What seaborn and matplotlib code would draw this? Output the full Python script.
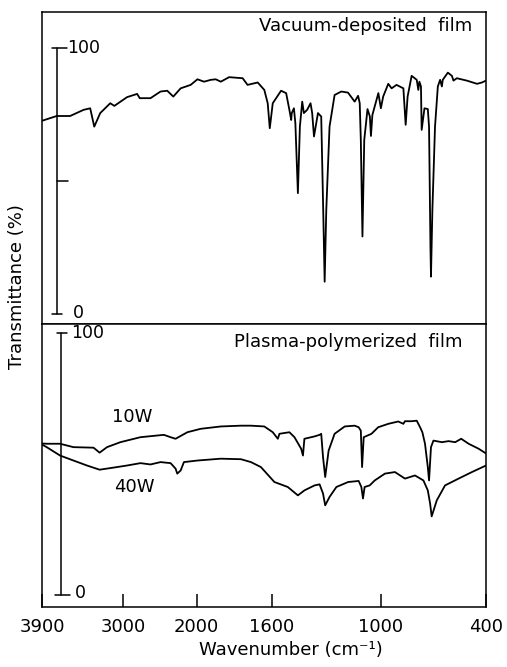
import numpy as np
import pandas as pd
import seaborn as sns
import matplotlib
matplotlib.use("Agg")
import matplotlib.pyplot as plt

# ---------------- data ----------------
vac_wn = [3900, 3737, 3589, 3441, 3367, 3322, 3256, 3145, 3100, 2949, 2812, 2777, 2630,
          2493, 2402, 2319, 2219, 2082, 1996, 1961, 1925, 1899, 1872, 1828, 1756, 1730,
          1676, 1641, 1623, 1612, 1596, 1550, 1522, 1504, 1494, 1491, 1479, 1471, 1457,
          1446, 1433, 1424, 1406, 1387, 1378, 1368, 1346, 1328, 1317, 1309, 1300, 1282,
          1254, 1217, 1180, 1143, 1124, 1115, 1109, 1100, 1090, 1072, 1059, 1053, 1045,
          1012, 998, 985, 956, 937, 909, 870, 857, 846, 823, 794, 785, 779, 770, 766,
          750, 731, 724, 716, 713, 705, 690, 674, 661, 651, 646, 617, 594, 585, 566,
          509, 451, 423, 400]
vac_T = [72.6, 74.4, 74.4, 76.7, 77.3, 70.4, 75.5, 79.2, 78.2, 81.5, 82.7, 81.1, 81.1,
         83.6, 83.9, 81.7, 84.8, 86.1, 88.2, 87.3, 88.0, 88.2, 87.3, 89.0, 88.6, 86.1,
         87.0, 84.2, 79.2, 69.8, 79.2, 83.9, 83.0, 76.7, 72.9, 75.5, 77.3, 71.7, 45.4,
         70.4, 79.8, 75.5, 76.7, 79.2, 75.5, 66.7, 75.5, 74.2, 39.1, 12.1, 39.1, 70.4,
         82.3, 83.6, 83.2, 79.8, 82.0, 79.2, 65.4, 29.1, 65.4, 77.0, 74.2, 66.9, 74.8,
         83.0, 77.3, 81.7, 86.5, 84.8, 86.1, 84.8, 71.1, 81.7, 89.5, 88.0, 84.2, 87.3,
         85.5, 69.2, 77.3, 77.0, 70.4, 25.3, 14.0, 39.1, 70.4, 85.5, 88.0, 85.5, 88.0,
         90.7, 89.5, 87.7, 88.6, 87.7, 86.5, 87.0, 87.7]

w10_wn = [3900, 3848, 3700, 3552, 3330, 3263, 3181, 3033, 2767, 2448, 2356, 2288, 2127,
          1979, 1872, 1765, 1712, 1641, 1596, 1568, 1559, 1504, 1476, 1439, 1429, 1421,
          1365, 1337, 1328, 1318, 1306, 1287, 1254, 1198, 1143, 1121, 1109, 1102, 1093,
          1050, 1013, 956, 899, 870, 861, 823, 794, 775, 762, 747, 731, 724, 713, 699,
          651, 613, 575, 541, 499, 442, 400]
w10_T = [57.8, 57.7, 57.7, 56.4, 56.2, 54.3, 56.4, 58.3, 60.2, 61.1, 60.2, 59.6, 62.1,
         63.4, 64.3, 64.6, 64.6, 64.3, 62.1, 59.6, 61.5, 62.1, 60.2, 55.8, 53.2, 59.6,
         60.5, 61.1, 61.5, 52.6, 45.0, 55.1, 61.5, 64.3, 64.6, 64.0, 62.7, 48.8, 60.2,
         61.5, 64.0, 65.3, 66.2, 65.3, 66.3, 66.3, 66.5, 64.0, 62.1, 57.7, 48.8, 43.7,
         56.4, 58.9, 58.3, 58.7, 58.3, 59.6, 57.7, 55.8, 54.0]

w40_wn = [3900, 3848, 3700, 3552, 3403, 3263, 3108, 2949, 2767, 2630, 2493, 2356, 2288,
          2265, 2219, 2174, 1996, 1872, 1765, 1712, 1659, 1587, 1513, 1457, 1421, 1365,
          1337, 1318, 1306, 1282, 1244, 1179, 1121, 1106, 1097, 1088, 1060, 1032, 975,
          918, 861, 804, 756, 731, 718, 709, 680, 633, 556, 480, 400]
w40_T = [57.4, 56.4, 53.2, 51.3, 49.4, 47.8, 48.6, 49.4, 50.3, 49.8, 50.7, 50.3, 48.2,
         46.3, 47.5, 50.7, 51.3, 52.0, 51.8, 50.7, 48.8, 43.1, 41.2, 38.0, 39.9, 41.8,
         42.2, 38.7, 34.2, 37.4, 41.2, 43.1, 43.5, 41.2, 36.8, 41.2, 41.8, 43.7, 46.3,
         46.9, 44.4, 45.6, 43.7, 39.9, 34.9, 30.0, 36.1, 41.8, 44.4, 46.9, 49.4]

tick_values = [3900, 3000, 2000, 1600, 1000, 400]
tick_labels = ["3900", "3000", "2000", "1600", "1000", "400"]

# piecewise-linear wavenumber scale (instrument chart paper), breakpoints
scale_wn = np.array([400, 1000, 1600, 2000, 3000, 3900], dtype=float)
scale_pos = np.array([-484, -379, -271, -196, -123, -42], dtype=float)  # increasing


def fwd(w):
    return np.interp(w, scale_wn, scale_pos)


def inv(p):
    return np.interp(p, scale_pos, scale_wn)


# ---------------- figure ----------------
sns.set_style("white")
plt.rcParams["font.family"] = ["DejaVu Sans"]
plt.rcParams["text.color"] = "black"
plt.rcParams["xtick.color"] = "black"
plt.rcParams["axes.labelcolor"] = "black"

W, H = 507, 667
fig = plt.figure(figsize=(W / 100, H / 100), dpi=100)
L, R = 42 / W, 486 / W
ax1 = fig.add_axes([L, 1 - 324 / H, R - L, (324 - 12) / H])
ax2 = fig.add_axes([L, 1 - 607 / H, R - L, (607 - 324) / H])

df_vac = pd.DataFrame({"wn": vac_wn, "T": vac_T})
df10 = pd.DataFrame({"wn": w10_wn, "T": w10_T})
df40 = pd.DataFrame({"wn": w40_wn, "T": w40_T})

lw = 1.3
sns.lineplot(data=df_vac, x="wn", y="T", ax=ax1, color="black", lw=lw,
             sort=False, estimator=None)
sns.lineplot(data=df10, x="wn", y="T", ax=ax2, color="black", lw=lw,
             sort=False, estimator=None)
sns.lineplot(data=df40, x="wn", y="T", ax=ax2, color="black", lw=lw,
             sort=False, estimator=None)

for ax in (ax1, ax2):
    ax.set_xscale("function", functions=(fwd, inv))
    ax.set_xlim(3900, 400)
    ax.set_xlabel("")
    ax.set_ylabel("")
    ax.set_yticks([])
    for s in ax.spines.values():
        s.set_visible(True)
        s.set_color("black")
        s.set_linewidth(1.1)

ax1.set_ylim(-3.8, 113.5)
ax2.set_ylim(-4.6, 103.4)

ax1.set_xticks([])
ax2.set_xticks(tick_values)
ax2.set_xticklabels(tick_labels)
ax2.tick_params(axis="x", direction="in", length=9.5, width=1.1, pad=8,
                labelsize=13, bottom=True, colors="black")

# internal transmittance scale bars
fs = 12.5
t1 = ax1.get_yaxis_transform()
bx = (57 - 42) / 444
ax1.plot([bx, bx], [0, 100], color="black", lw=1.1, transform=t1, clip_on=False)
ax1.plot([bx - 0.012, bx + 0.023], [100, 100], color="black", lw=1.1, transform=t1)
ax1.plot([bx, bx + 0.025], [50, 50], color="black", lw=1.1, transform=t1)
ax1.plot([bx - 0.012, bx + 0.012], [0, 0], color="black", lw=1.1, transform=t1)
ax1.text(bx + 0.023, 100, "100", transform=t1, va="center", ha="left", fontsize=fs)
ax1.text(bx + 0.035, 0.5, "0", transform=t1, va="center", ha="left", fontsize=fs)

t2 = ax2.get_yaxis_transform()
bx2 = (61 - 42) / 444
ax2.plot([bx2, bx2], [0, 100], color="black", lw=1.1, transform=t2)
ax2.plot([bx2 - 0.010, bx2 + 0.013], [100, 100], color="black", lw=1.1, transform=t2)
ax2.plot([bx2 - 0.013, bx2 + 0.020], [0, 0], color="black", lw=1.1, transform=t2)
ax2.text(bx2 + 0.022, 100, "100", transform=t2, va="center", ha="left", fontsize=fs)
ax2.text(bx2 + 0.032, 0.8, "0", transform=t2, va="center", ha="left", fontsize=fs)

# panel titles and curve labels
ax1.text(0.968, 0.955, "Vacuum-deposited  film", transform=ax1.transAxes,
         ha="right", va="center", fontsize=13)
ax2.text(0.946, 0.936, "Plasma-polymerized  film", transform=ax2.transAxes,
         ha="right", va="center", fontsize=13)
ax2.text(0.158, 0.671, "10W", transform=ax2.transAxes, ha="left", va="center",
         fontsize=13)
ax2.text(0.162, 0.424, "40W", transform=ax2.transAxes, ha="left", va="center",
         fontsize=13)

fig.text(17 / W, 1 - 287 / H, "Transmittance (%)", rotation=90, ha="center",
         va="center", fontsize=13)
fig.text(291 / W, 1 - 650 / H, "Wavenumber (cm\u207b\u00b9)", ha="center",
         va="center", fontsize=13)

fig.savefig("out.png", dpi=100, facecolor="white")
